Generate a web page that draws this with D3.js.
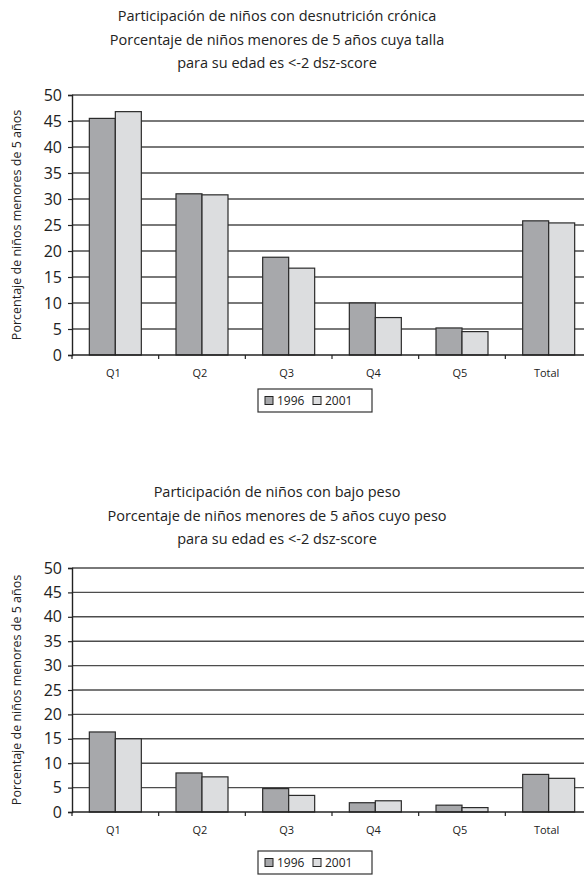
<!DOCTYPE html>
<html>
<head>
<meta charset="utf-8">
<script src="https://cdn.jsdelivr.net/npm/d3@7"></script>
<style>
  html, body { margin: 0; padding: 0; background: #fff; }
  svg { display: block; font-family: "Open Sans", "DejaVu Sans", sans-serif; }
</style>
</head>
<body>
<svg id="chart" width="584" height="878"></svg>
<script>
// Quintiles and the two survey years
const categories = ["Q1", "Q2", "Q3", "Q4", "Q5", "Total"];
const years = ["1996", "2001"];
const yTicks = [0, 5, 10, 15, 20, 25, 30, 35, 40, 45, 50];

// Chronic malnutrition (height-for-age < -2 z-score), % of children under 5
const stunting1996 = [45.5, 31.0, 18.8, 10.0, 5.2, 25.8];
const stunting2001 = [46.8, 30.8, 16.7, 7.2, 4.5, 25.4];

// Underweight (weight-for-age < -2 z-score), % of children under 5
const underweight1996 = [16.4, 8.0, 4.8, 1.9, 1.4, 7.7];
const underweight2001 = [15.0, 7.2, 3.4, 2.3, 0.9, 6.9];

const titleStunting = [
  "Participación de niños con desnutrición crónica",
  "Porcentaje de niños menores de 5 años cuya talla",
  "para su edad es <-2 dsz-score"
];
const titleUnderweight = [
  "Participación de niños con bajo peso",
  "Porcentaje de niños menores de 5 años cuyo peso",
  "para su edad es <-2 dsz-score"
];
const yAxisTitle = "Porcentaje de niños menores de 5 años";

const colors = { "1996": "#a7a8ab", "2001": "#dcdddf" };
const svg = d3.select("#chart");

function drawChart(cfg) {
  const g = svg.append("g");
  const left = 72, right = 592;

  // Title block
  cfg.title.forEach((line, i) => {
    g.append("text")
      .attr("x", 277).attr("y", cfg.titleY + i * 23.5)
      .attr("text-anchor", "middle")
      .attr("font-size", 14.5).attr("fill", "#222")
      .text(line);
  });

  const x = d3.scaleBand().domain(categories).range([left, right]);
  const xi = d3.scaleBand().domain(years).range([0, x.bandwidth() * 0.6]);
  const y = d3.scaleLinear().domain([0, 50]).range([cfg.y0, cfg.y50]);

  // Horizontal gridlines
  g.append("g").selectAll("line").data(yTicks.filter(t => t > 0)).join("line")
    .attr("x1", left).attr("x2", right)
    .attr("y1", d => y(d)).attr("y2", d => y(d))
    .attr("stroke", "#4d4d4d").attr("stroke-width", 1.4);

  // Bars
  const rows = categories.map((c, i) => ({ cat: c, values: { "1996": cfg.a[i], "2001": cfg.b[i] } }));
  g.append("g").selectAll("g").data(rows).join("g")
    .attr("transform", d => `translate(${x(d.cat) + x.bandwidth() * 0.2},0)`)
    .selectAll("rect").data(d => years.map(yr => ({ yr, v: d.values[yr] }))).join("rect")
    .attr("x", d => xi(d.yr)).attr("width", xi.bandwidth())
    .attr("y", d => y(d.v)).attr("height", d => y(0) - y(d.v))
    .attr("fill", d => colors[d.yr])
    .attr("stroke", "#2b2b2b").attr("stroke-width", 1.2);

  // Y axis
  const yAxis = g.append("g").attr("transform", `translate(${left},0)`)
    .call(d3.axisLeft(y).tickValues(yTicks).tickSize(4).tickPadding(6));
  yAxis.select(".domain").attr("stroke", "#222").attr("stroke-width", 1.4);
  yAxis.selectAll(".tick line").attr("stroke", "#222").attr("stroke-width", 1.2);
  yAxis.selectAll(".tick text").attr("font-size", 16).attr("fill", "#222")
    .attr("font-family", "\"Open Sans\", sans-serif");

  // X axis with ticks on the category boundaries
  const xAxis = g.append("g").attr("transform", `translate(0,${cfg.y0})`);
  xAxis.append("line").attr("x1", left).attr("x2", right)
    .attr("stroke", "#222").attr("stroke-width", 1.4);
  xAxis.selectAll("line.tk").data(categories).join("line").attr("class", "tk")
    .attr("x1", d => x(d)).attr("x2", d => x(d))
    .attr("y1", 0).attr("y2", 4)
    .attr("stroke", "#222").attr("stroke-width", 1.2);
  xAxis.selectAll("text").data(categories).join("text")
    .attr("x", d => x(d) + x.bandwidth() / 2 - 2)
    .attr("y", 22)
    .attr("text-anchor", "middle").attr("font-size", 11).attr("fill", "#222")
    .text(d => d);

  // Rotated y-axis title
  g.append("text")
    .attr("transform", `translate(21,${(cfg.y0 + cfg.y50) / 2}) rotate(-90)`)
    .attr("text-anchor", "middle").attr("font-size", 12.5).attr("fill", "#222")
    .text(yAxisTitle);

  // Legend
  const lg = g.append("g").attr("transform", `translate(258,${cfg.legendY})`);
  lg.append("rect").attr("width", 114).attr("height", 23)
    .attr("fill", "#fff").attr("stroke", "#333").attr("stroke-width", 1.2);
  const items = lg.selectAll("g").data(years).join("g")
    .attr("transform", (d, i) => `translate(${7 + i * 48},0)`);
  items.append("rect").attr("x", 0).attr("y", 7.5).attr("width", 8).attr("height", 8)
    .attr("fill", d => colors[d]).attr("stroke", "#222").attr("stroke-width", 1);
  items.append("text").attr("x", 12).attr("y", 16)
    .attr("font-size", 12).attr("fill", "#222").text(d => d);
}

drawChart({ title: titleStunting, titleY: 21, y0: 355, y50: 95,
            a: stunting1996, b: stunting2001, legendY: 389 });
drawChart({ title: titleUnderweight, titleY: 497, y0: 812, y50: 568,
            a: underweight1996, b: underweight2001, legendY: 851 });
</script>
</body>
</html>
